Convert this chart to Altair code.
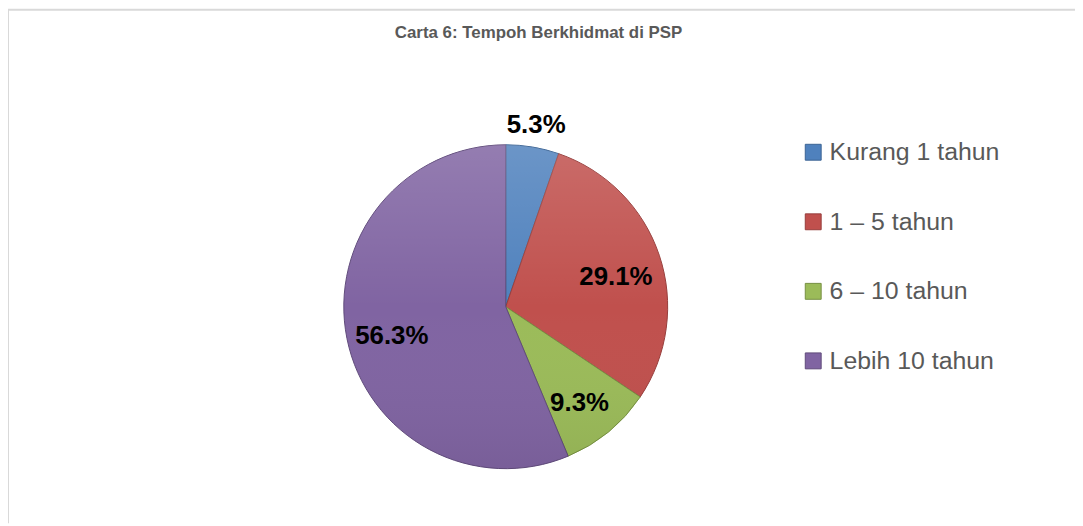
import altair as alt
import pandas as pd

TITLE = "Carta 6: Tempoh Berkhidmat di PSP"
categories = ["Kurang 1 tahun", "1 – 5 tahun", "6 – 10 tahun", "Lebih 10 tahun"]
values = [5.3, 29.1, 9.3, 56.3]
labels = ["5.3%", "29.1%", "9.3%", "56.3%"]
colors = ["#4F81BD", "#C0504D", "#9BBB59", "#8064A2"]
edge_colors = ["#3A6393", "#963C3A", "#768F42", "#5F4A7A"]

df = pd.DataFrame({
    "cat": categories,
    "val": values,
    "lab": labels,
    "ord": list(range(len(categories))),
})

W, H = 1074, 517
CX, CY, R = 501, 299, 163
FONT = "Liberation Sans"

base = alt.Chart(df)

color_scale = alt.Scale(domain=categories, range=colors)
stroke_scale = alt.Scale(domain=categories, range=edge_colors)

pie = base.mark_arc(radius=R, strokeWidth=1).encode(
    theta=alt.Theta("val:Q", stack=True),
    order=alt.Order("ord:Q"),
    color=alt.Color(
        "cat:N", scale=color_scale, sort=categories,
        legend=alt.Legend(
            title=None, orient="none", legendX=798, legendY=131,
            symbolType="square", symbolSize=256, symbolStrokeWidth=1,
            labelFont=FONT, labelFontSize=25, labelColor="#595959",
            labelOffset=4, rowPadding=44, padding=0, labelLimit=400,
        ),
    ),
    stroke=alt.Stroke("cat:N", scale=stroke_scale, legend=None),
    x=alt.value(CX),
    y=alt.value(CY),
)

shade = alt.Chart(alt.Data(values=[{"k": 1}])).mark_arc(
    radius=R, theta=0, theta2=6.2832,
    fill=alt.LinearGradient(
        gradient="linear", x1=0, x2=0, y1=0, y2=1,
        stops=[
            alt.GradientStop(color="rgba(255,255,255,0.16)", offset=0),
            alt.GradientStop(color="rgba(255,255,255,0.0)", offset=0.5),
            alt.GradientStop(color="rgba(0,0,0,0.06)", offset=1),
        ],
    ),
).encode(x=alt.value(CX), y=alt.value(CY))

inner = base.mark_text(
    radius=117, dy=7, font=FONT, fontSize=26, fontWeight="bold", color="black",
    align="center", baseline="middle",
).encode(
    theta=alt.Theta("val:Q", stack=True),
    order=alt.Order("ord:Q"),
    text=alt.condition(alt.datum.ord == 0, alt.value(""), alt.Text("lab:N")),
    x=alt.value(CX),
    y=alt.value(CY),
)

outer = base.mark_text(
    radius=185, font=FONT, fontSize=26, fontWeight="bold", color="black",
    align="center", baseline="middle",
).encode(
    theta=alt.Theta("val:Q", stack=True),
    order=alt.Order("ord:Q"),
    text=alt.condition(alt.datum.ord == 0, alt.Text("lab:N"), alt.value("")),
    x=alt.value(CX),
    y=alt.value(CY),
)

title = alt.Chart(alt.Data(values=[{"t": TITLE}])).mark_text(
    font=FONT, fontSize=17, fontWeight="bold", color="#595959",
    align="center", baseline="middle",
).encode(text="t:N", x=alt.value(534), y=alt.value(23))

border_top = alt.Chart(alt.Data(values=[{"k": 1}])).mark_rule(
    color="#D9D9D9", strokeWidth=2
).encode(x=alt.value(0), x2=alt.value(W), y=alt.value(0))

border_left = alt.Chart(alt.Data(values=[{"k": 1}])).mark_rule(
    color="#D9D9D9", strokeWidth=2
).encode(x=alt.value(0), y=alt.value(0), y2=alt.value(H))

chart = alt.layer(border_top, border_left, pie, shade, inner, outer, title).properties(
    width=W, height=H,
    autosize=alt.AutoSizeParams(type="none"),
    padding=0,
).configure_view(stroke=None)

chart.save("out.html", embed_options={"renderer": "svg", "actions": False})
